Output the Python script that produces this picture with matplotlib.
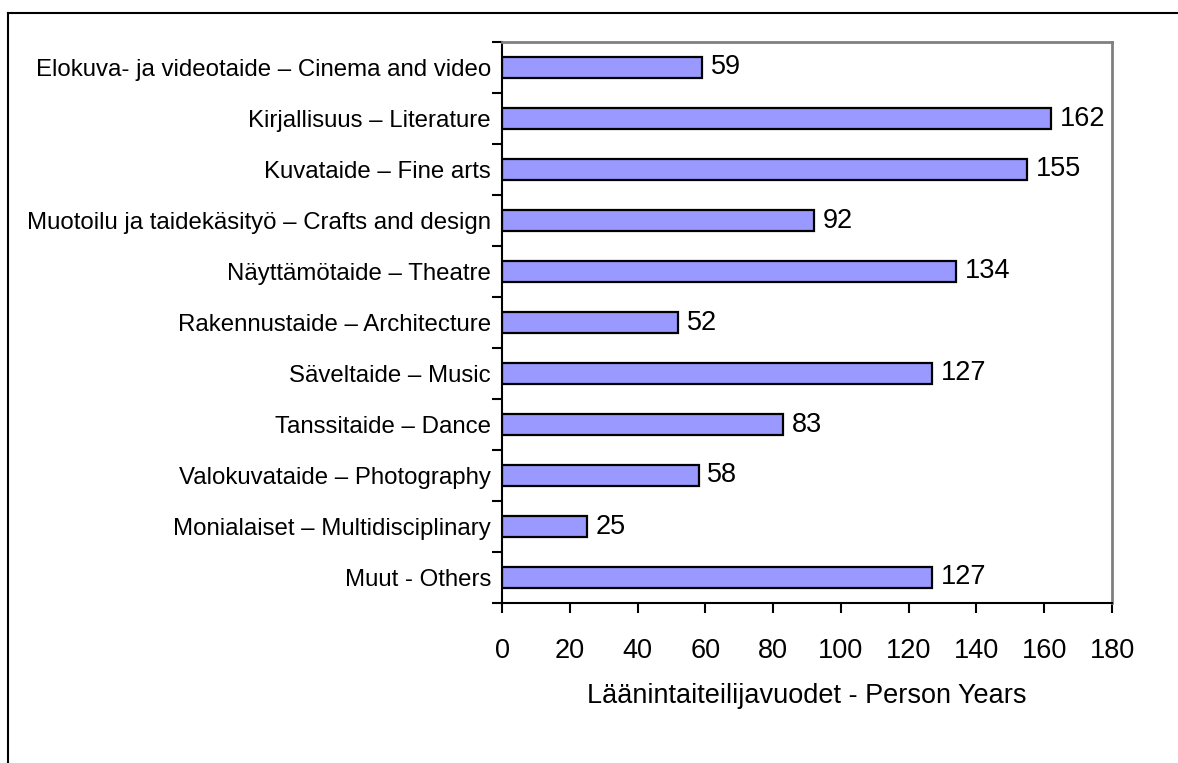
import matplotlib
matplotlib.use("Agg")
import matplotlib.pyplot as plt
from matplotlib.lines import Line2D
import numpy as np

plt.rcParams['font.family'] = ['Liberation Sans', 'DejaVu Sans']

# Data
categories = [
    "Elokuva- ja videotaide – Cinema and video",
    "Kirjallisuus – Literature",
    "Kuvataide – Fine arts",
    "Muotoilu ja taidekäsityö – Crafts and design",
    "Näyttämötaide – Theatre",
    "Rakennustaide – Architecture",
    "Säveltaide – Music",
    "Tanssitaide – Dance",
    "Valokuvataide – Photography",
    "Monialaiset – Multidisciplinary",
    "Muut - Others",
]
values = [59, 162, 155, 92, 134, 52, 127, 83, 58, 25, 127]
xticks = [0, 20, 40, 60, 80, 100, 120, 140, 160, 180]

fig = plt.figure(figsize=(11.78, 7.63), dpi=100)
W, H = 1178, 763
# axes placement in pixels
left, right, top, bottom = 502, 1112, 42, 603
ax = fig.add_axes([left / W, 1 - bottom / H, (right - left) / W, (bottom - top) / H])

n = len(categories)
y = np.arange(n)
ax.barh(y, values, height=0.43, color='#9999ff', edgecolor='black', linewidth=1.6)

for yi, v in zip(y, values):
    ax.text(v + 2.6, yi, str(v), va='center', ha='left', fontsize=19.5)

ax.set_xlim(0, 180)
ax.set_ylim(n - 0.5, -0.5)

# y ticks at category boundaries, labels at centres
ax.set_yticks(np.arange(-0.5, n, 1.0))
ax.set_yticklabels([])
ax.set_yticks(y, minor=True)
ax.set_yticklabels(categories, minor=True, fontsize=17.3)
ax.tick_params(axis='y', which='minor', length=0, pad=8)
ax.tick_params(axis='y', which='major', length=7, width=1.5, direction='out')

ax.set_xticks(xticks)
ax.set_xticklabels([str(t) for t in xticks], fontsize=19.5)
ax.tick_params(axis='x', length=7, width=1.5, direction='out', pad=18)
ax.set_xlabel("Läänintaiteilijavuodet - Person Years", fontsize=19.5, labelpad=14)

for side in ['left', 'bottom']:
    ax.spines[side].set_color('black')
    ax.spines[side].set_linewidth(1.5)
for side in ['top', 'right']:
    ax.spines[side].set_color('#808080')
    ax.spines[side].set_linewidth(2)

# outer frame lines (left and top)
fig.add_artist(Line2D([8 / W, 8 / W], [0, 1 - 13 / H], color='black', linewidth=1.5))
fig.add_artist(Line2D([8 / W, 1], [1 - 13 / H, 1 - 13 / H], color='black', linewidth=1.5))

fig.savefig("out.png", dpi=100)
